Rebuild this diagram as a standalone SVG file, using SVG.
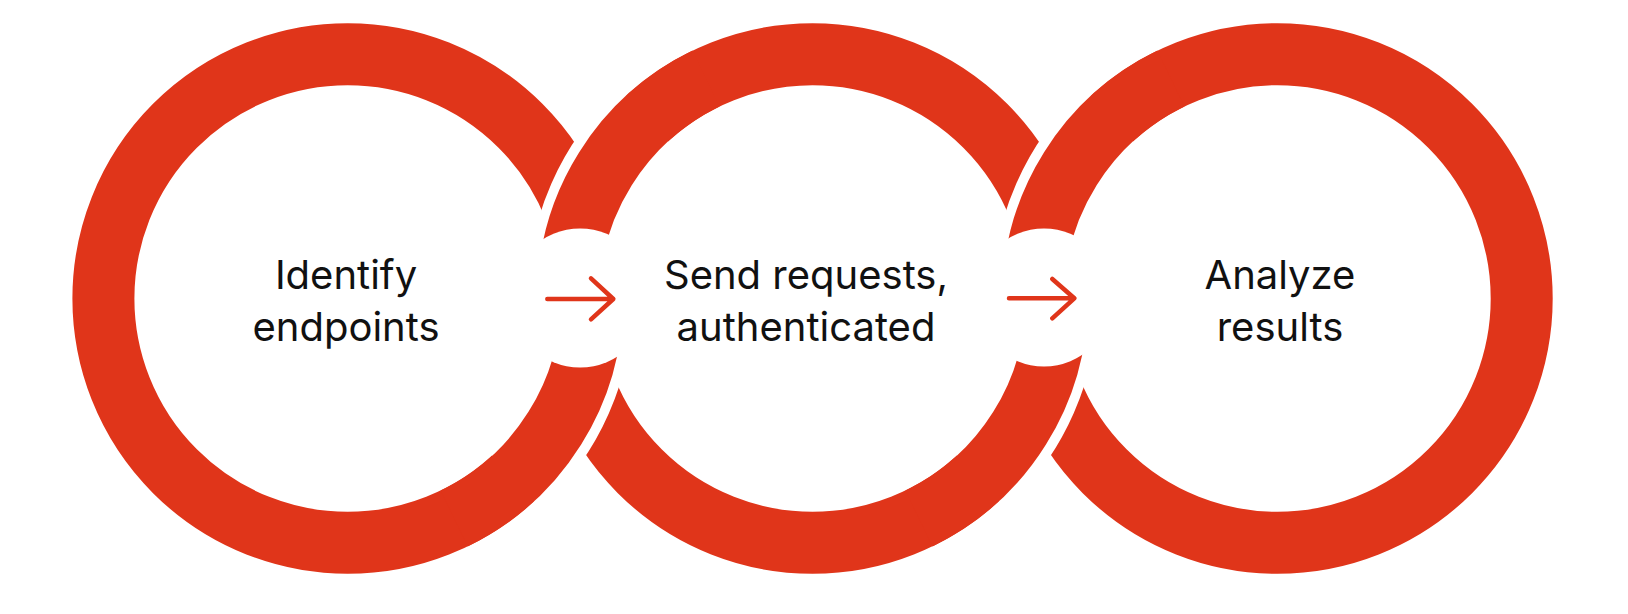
<svg xmlns="http://www.w3.org/2000/svg" width="1628" height="614" viewBox="0 0 1628 614">
  <style>
    .ring { fill: none; stroke: #E0351A; stroke-width: 62; }
    .gap { fill: none; stroke: #FFFFFF; stroke-width: 82; }
    .over { fill: none; stroke: #E0351A; stroke-width: 62; }
    .bubble { fill: #FFFFFF; stroke: none; }
    .arrow { fill: none; stroke: #E0351A; stroke-width: 4.5; stroke-linecap: round; stroke-linejoin: round; }
    .label { font-family: Inter, "Liberation Sans", sans-serif; font-size: 40px; fill: #111111; text-anchor: middle; }
  </style>
  <rect x="0" y="0" width="1628" height="614" fill="#FFFFFF"/>

  <g id="ring-1">
    <circle class="ring" cx="347.7" cy="298.5" r="244.3"/>
  </g>
  <g id="ring-2">
    <circle class="ring" cx="812.5" cy="298.5" r="244.3"/>
  </g>
  <g id="ring-3">
    <circle class="ring" cx="1277.4" cy="298.5" r="244.3"/>
  </g>

  <g id="interlocks">
    <path class="gap" d="M 568.2 298.5 A 244.3 244.3 0 0 1 647.3 118.5"/>
    <path class="over" d="M 568.2 298.5 A 244.3 244.3 0 0 1 706 78.5"/>
    <path class="gap" d="M 592 298.5 A 244.3 244.3 0 0 1 512.9 478.5"/>
    <path class="over" d="M 592 298.5 A 244.3 244.3 0 0 1 454.2 518.5"/>
    <path class="gap" d="M 1033.1 298.5 A 244.3 244.3 0 0 1 1112.2 118.5"/>
    <path class="over" d="M 1033.1 298.5 A 244.3 244.3 0 0 1 1170.9 78.5"/>
    <path class="gap" d="M 1056.8 298.5 A 244.3 244.3 0 0 1 977.7 478.5"/>
    <path class="over" d="M 1056.8 298.5 A 244.3 244.3 0 0 1 919 518.5"/>
  </g>

  <g id="bubbles">
    <circle class="bubble" cx="580.1" cy="298" r="69.5"/>
    <circle class="bubble" cx="1044" cy="297.5" r="69"/>
  </g>

  <g id="connectors">
    <path class="arrow" d="M 547.3 299 L 613.3 299 M 591 278.3 L 613.3 299 L 591 319.3"/>
    <path class="arrow" d="M 1009 298.3 L 1074.3 298.3 M 1052.3 279 L 1074.3 298.3 L 1052.3 318.3"/>
  </g>

  <g id="node-identify">
    <text class="label" x="346" y="289">Identify</text>
    <text class="label" x="346" y="341">endpoints</text>
  </g>
  <g id="node-send">
    <text class="label" x="806" y="289">Send requests,</text>
    <text class="label" x="806" y="341">authenticated</text>
  </g>
  <g id="node-analyze">
    <text class="label" x="1280" y="289">Analyze</text>
    <text class="label" x="1280" y="341">results</text>
  </g>
</svg>
